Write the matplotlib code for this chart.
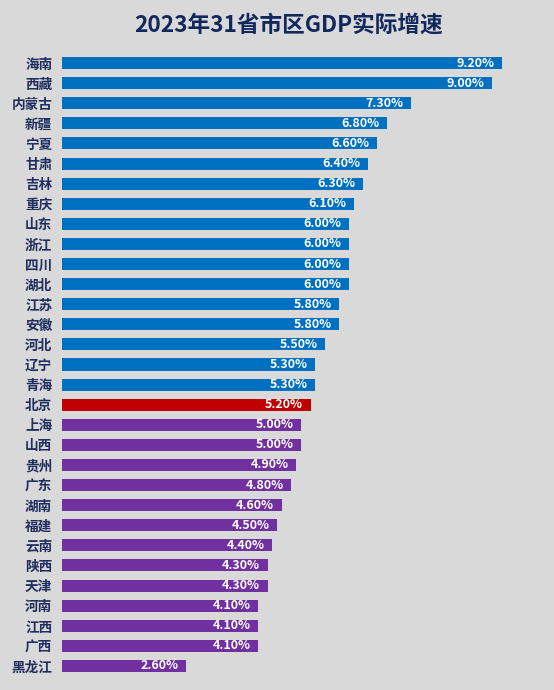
import matplotlib
matplotlib.use("Agg")
import matplotlib.pyplot as plt

plt.rcParams['font.family'] = ['Noto Sans CJK SC', 'DejaVu Sans']

provinces = ["海南", "西藏", "内蒙古", "新疆", "宁夏", "甘肃", "吉林", "重庆", "山东", "浙江",
             "四川", "湖北", "江苏", "安徽", "河北", "辽宁", "青海", "北京", "上海", "山西",
             "贵州", "广东", "湖南", "福建", "云南", "陕西", "天津", "河南", "江西", "广西", "黑龙江"]
growth = [9.2, 9.0, 7.3, 6.8, 6.6, 6.4, 6.3, 6.1, 6.0, 6.0,
          6.0, 6.0, 5.8, 5.8, 5.5, 5.3, 5.3, 5.2, 5.0, 5.0,
          4.9, 4.8, 4.6, 4.5, 4.4, 4.3, 4.3, 4.1, 4.1, 4.1, 2.6]
title = "2023年31省市区GDP实际增速"

BLUE, RED, PURPLE = "#0070C0", "#C00000", "#7030A0"
bj = provinces.index("北京")
colors = [BLUE if i < bj else (RED if i == bj else PURPLE) for i in range(len(provinces))]

W, H = 554, 690
fig = plt.figure(figsize=(W / 100, H / 100), dpi=100)
fig.patch.set_facecolor("#D9D9D9")

left = 62 / W
width = 478 / W
top_px, bot_px = 53, 676
ax = fig.add_axes([left, 1 - bot_px / H, width, (bot_px - top_px) / H])
ax.set_facecolor("#D9D9D9")

y = list(range(len(provinces)))
ax.barh(y, growth, height=0.6, color=colors)
ax.set_xlim(0, 10)
ax.set_ylim(len(provinces) - 0.5, -0.5)

for yi, v in zip(y, growth):
    ax.text(v - 0.16, yi, f"{v:.2f}%", ha="right", va="center", color="white",
            fontsize=9, fontweight="bold")

ax.set_yticks(y)
ax.set_yticklabels(provinces, fontsize=9.8, fontweight="bold", color="#1F2E5E")
ax.tick_params(axis="y", length=0, pad=7)
ax.set_xticks([])
for s in ax.spines.values():
    s.set_visible(False)

fig.text(288 / W, 1 - 25 / H, title, ha="center", va="center", fontsize=16.3,
         fontweight="bold", color="#12275C")

fig.savefig("out.png", dpi=100, facecolor=fig.get_facecolor())
